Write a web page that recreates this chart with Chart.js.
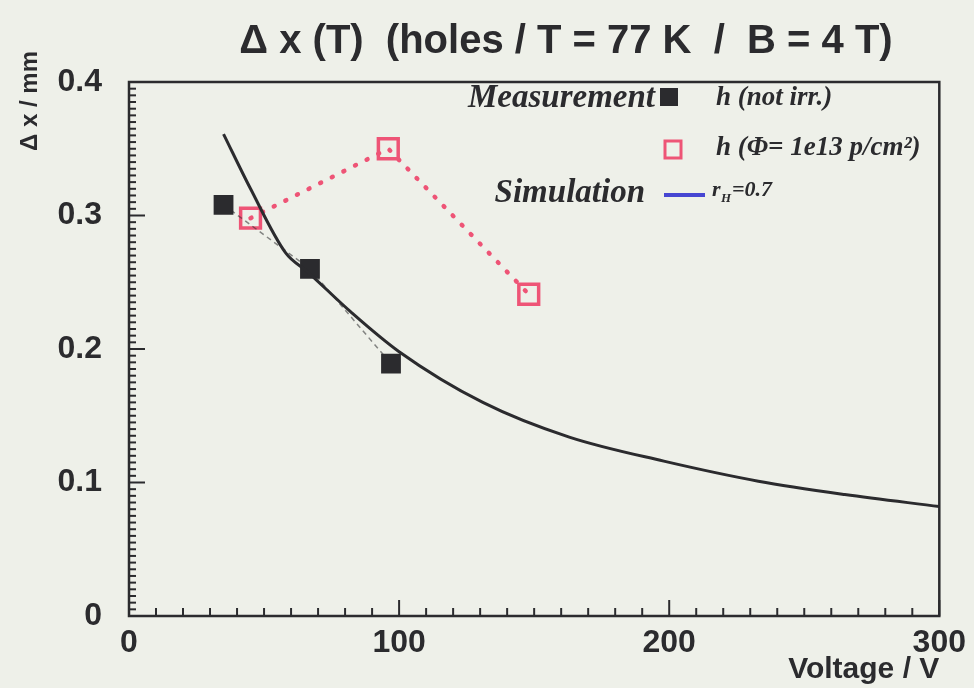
<!DOCTYPE html>
<html>
<head>
<meta charset="utf-8">
<style>
  html, body { margin: 0; padding: 0; background: #eef0e9; }
  #wrap { width: 974px; height: 688px; }
</style>
<script src="https://cdn.jsdelivr.net/npm/chart.js@4.4.1/dist/chart.umd.min.js"></script>
</head>
<body>
<div id="wrap"><canvas id="dxChart" width="974" height="688"></canvas></div>
<script>
// ==============================
// DATA
// ==============================
const simVoltage = [35, 45, 58, 66, 82, 100, 131, 163, 198, 233, 265, 300];
const simDx      = [0.361, 0.32, 0.272, 0.258, 0.228, 0.198, 0.160, 0.134, 0.116, 0.101, 0.091, 0.082];

const measVoltage = [35, 67, 97];
const measDx      = [0.308, 0.26, 0.189];

const irrVoltage = [45, 96, 148];
const irrDx      = [0.298, 0.35, 0.241];

const xTickLabels = [0, 100, 200, 300];
const yTickLabels = [0, 0.1, 0.2, 0.3, 0.4];

// ==============================
// HELPERS
// ==============================
const ink = '#2b2b2e';
const pink = '#ee5476';

function toPoints(xs, ys) {
    return xs.map((x, i) => ({ x: x, y: ys[i] }));
}

function isMajor(value, step) {
    return Math.abs(value / step - Math.round(value / step)) < 1e-6;
}

// ==============================
// PLUGINS
// ==============================
const paperBackground = {
    id: 'paperBackground',
    beforeDraw(chart) {
        const ctx = chart.ctx;
        ctx.save();
        ctx.fillStyle = '#eef0e9';
        ctx.fillRect(0, 0, chart.width, chart.height);
        ctx.restore();
    }
};

// frame + inward tick marks, taken from the scales
const frameTicks = {
    id: 'frameTicks',
    afterDraw(chart) {
        const ctx = chart.ctx;
        const area = chart.chartArea;
        const xs = chart.scales.x;
        const ys = chart.scales.y;
        ctx.save();
        ctx.strokeStyle = ink;
        ctx.lineWidth = 2;
        xs.ticks.forEach(t => {
            const px = xs.getPixelForValue(t.value);
            const len = isMajor(t.value, 100) ? 16 : 8;
            ctx.beginPath();
            ctx.moveTo(px, area.bottom);
            ctx.lineTo(px, area.bottom - len);
            ctx.stroke();
        });
        ys.ticks.forEach(t => {
            const py = ys.getPixelForValue(t.value);
            const len = isMajor(t.value, 0.1) ? 16 : 7;
            ctx.beginPath();
            ctx.moveTo(area.left, py);
            ctx.lineTo(area.left + len, py);
            ctx.stroke();
        });
        ctx.lineWidth = 2.5;
        ctx.strokeRect(area.left, area.top, area.right - area.left, area.bottom - area.top);
        ctx.restore();
    }
};

// title, y axis title and the ROOT-style legend
const annotations = {
    id: 'annotations',
    afterDraw(chart) {
        const ctx = chart.ctx;
        ctx.save();
        ctx.fillStyle = ink;

        ctx.font = 'bold 40px "Liberation Sans", Arial, sans-serif';
        ctx.textAlign = 'center';
        ctx.textBaseline = 'middle';
        ctx.fillText('\u0394 x (T)  (holes / T = 77 K  /  B = 4 T)', 566, 42);

        ctx.save();
        ctx.translate(30, 101);
        ctx.rotate(-Math.PI / 2);
        ctx.font = 'bold 24px "Liberation Sans", Arial, sans-serif';
        ctx.fillText('\u0394 x / mm', 0, 0);
        ctx.restore();

        // legend
        ctx.textBaseline = 'middle';
        ctx.font = 'italic bold 33px "Liberation Serif", serif';
        ctx.textAlign = 'right';
        ctx.fillText('Measurement', 655, 98);
        ctx.fillText('Simulation', 645, 193);

        ctx.fillRect(660, 88, 18, 18);

        ctx.strokeStyle = pink;
        ctx.lineWidth = 3;
        ctx.strokeRect(665, 141, 16, 17);

        ctx.strokeStyle = '#4646d2';
        ctx.lineWidth = 4;
        ctx.beginPath();
        ctx.moveTo(664, 195);
        ctx.lineTo(705, 195);
        ctx.stroke();

        ctx.textAlign = 'left';
        ctx.font = 'italic bold 27px "Liberation Serif", serif';
        ctx.fillText('h (not irr.)', 716, 98);
        ctx.fillText('h (\u03a6= 1e13 p/cm\u00b2)', 716, 148);

        ctx.font = 'italic bold 22px "Liberation Serif", serif';
        ctx.fillText('r', 712, 190);
        ctx.font = 'italic bold 13px "Liberation Serif", serif';
        ctx.fillText('H', 721, 199);
        ctx.font = 'italic bold 22px "Liberation Serif", serif';
        ctx.fillText('=0.7', 732, 190);
        ctx.restore();
    }
};

// ==============================
// CHART
// ==============================
const tickFont = { family: '"Liberation Sans", Arial, sans-serif', size: 32, weight: 'bold' };

new Chart(document.getElementById('dxChart').getContext('2d'), {
    type: 'scatter',
    data: {
        datasets: [
            {
                label: 'Simulation r_H=0.7',
                data: toPoints(simVoltage, simDx),
                showLine: true,
                borderColor: ink,
                borderWidth: 3,
                pointRadius: 0,
                cubicInterpolationMode: 'monotone'
            },
            {
                label: 'h (not irr.)',
                data: toPoints(measVoltage, measDx),
                showLine: true,
                borderColor: 'rgba(43,43,46,0.55)',
                borderWidth: 1.5,
                borderDash: [5, 4],
                pointStyle: 'rect',
                pointRadius: 14,
                pointBackgroundColor: ink,
                pointBorderColor: ink,
                pointBorderWidth: 0
            },
            {
                label: 'h (irr.)',
                data: toPoints(irrVoltage, irrDx),
                showLine: true,
                borderColor: pink,
                borderWidth: 4.5,
                borderDash: [1, 12],
                borderCapStyle: 'round',
                pointStyle: 'rect',
                pointRadius: 14,
                pointBackgroundColor: 'rgba(0,0,0,0)',
                pointBorderColor: pink,
                pointBorderWidth: 3.5
            }
        ]
    },
    options: {
        responsive: false,
        animation: false,
        layout: { padding: { top: 82, right: 34, left: 0, bottom: 0 } },
        plugins: {
            legend: { display: false },
            tooltip: { enabled: false }
        },
        scales: {
            x: {
                type: 'linear',
                min: 0,
                max: 300,
                border: { display: false },
                grid: { display: false, drawTicks: false },
                ticks: {
                    stepSize: 10,
                    autoSkip: false,
                    maxRotation: 0,
                    padding: 8,
                    color: ink,
                    font: tickFont,
                    callback: v => xTickLabels.includes(v) ? String(v) : ''
                },
                title: {
                    display: true,
                    text: 'Voltage / V',
                    align: 'end',
                    color: ink,
                    font: { family: '"Liberation Sans", Arial, sans-serif', size: 30, weight: 'bold' },
                    padding: { top: 0, bottom: 0 }
                },
                afterFit: scale => { scale.height = 72; }
            },
            y: {
                type: 'linear',
                min: 0,
                max: 0.4,
                border: { display: false },
                grid: { display: false, drawTicks: false },
                ticks: {
                    stepSize: 0.005,
                    autoSkip: false,
                    padding: 27,
                    color: ink,
                    font: tickFont,
                    callback: v => {
                        const hit = yTickLabels.find(l => Math.abs(l - v) < 1e-6);
                        return hit === undefined ? '' : (hit === 0 ? '0' : hit.toFixed(1));
                    }
                },
                afterFit: scale => { scale.width = 129; }
            }
        }
    },
    plugins: [paperBackground, frameTicks, annotations]
});
</script>
</body>
</html>
